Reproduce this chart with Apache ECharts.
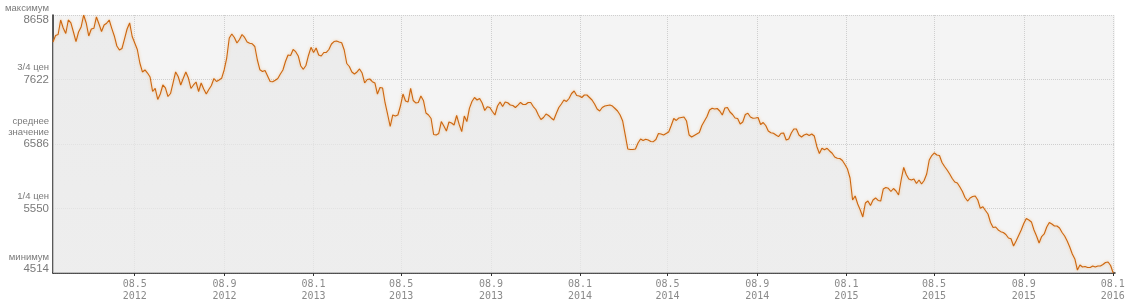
<!DOCTYPE html>
<html><head><meta charset="utf-8">
<script src="https://cdn.jsdelivr.net/npm/echarts@6/dist/echarts.min.js"></script>
<style>html,body{margin:0;padding:0;background:#fff}#c{width:1130px;height:307px}</style>
</head><body><div id="c"></div>
<script>
// ---- data ----
const firstSampleDate = '2012-01-17';   // date of the first value
const sampleStepDays = 3.5;             // values are read twice a week
const values = [
  8224,8329,8345,8578,8449,8361,8578,8530,8385,8229,
  8385,8465,8658,8530,8321,8433,8444,8626,8513,8393,
  8497,8525,8578,8444,8321,8160,8096,8120,8273,8433,
  8530,8313,8208,8104,7887,7743,7775,7726,7662,7429,
  7478,7301,7389,7534,7486,7349,7397,7566,7743,7670,
  7534,7641,7743,7646,7478,7534,7582,7429,7566,7469,
  7389,7461,7526,7638,7590,7614,7641,7775,7967,8289,
  8353,8297,8208,8264,8345,8297,8224,8203,8195,8152,
  7935,7778,7751,7767,7678,7590,7585,7609,7638,7710,
  7775,7911,8016,8008,8104,8069,8000,7839,7786,7847,
  8008,8139,8056,8128,8016,8000,8056,8056,8104,8192,
  8232,8240,8224,8213,8096,7879,7831,7743,7710,7743,
  7791,7726,7566,7622,7630,7587,7566,7389,7494,7486,
  7245,7060,6867,7052,7036,7052,7196,7389,7277,7261,
  7478,7285,7245,7253,7357,7285,7084,7052,6996,6739,
  6731,6755,6947,6875,6795,6939,6923,6891,7044,6900,
  6784,7036,6947,7159,7269,7333,7293,7317,7245,7124,
  7185,7172,7108,7052,7196,7261,7188,7261,7249,7212,
  7204,7172,7212,7253,7220,7220,7253,7253,7188,7140,
  7052,6980,7012,7068,7044,7004,6971,7076,7172,7229,
  7293,7269,7317,7397,7437,7365,7357,7333,7373,7373,
  7333,7293,7229,7148,7116,7172,7196,7204,7212,7196,
  7156,7116,7052,6955,6731,6506,6498,6498,6506,6602,
  6666,6642,6662,6650,6626,6623,6658,6755,6747,6731,
  6755,6779,6883,6996,6964,7004,7012,7020,6955,6731,
  6699,6723,6747,6771,6883,6955,7028,7132,7159,7148,
  7156,7116,7052,7164,7172,7100,7060,7004,6996,6908,
  6939,7060,7079,7020,6999,7004,7012,6900,6931,6883,
  6795,6768,6758,6731,6704,6758,6763,6650,6666,6763,
  6827,6827,6731,6699,6731,6747,6723,6747,6715,6546,
  6433,6517,6493,6517,6474,6437,6377,6356,6353,6321,
  6257,6184,6040,5687,5751,5622,5526,5414,5638,5670,
  5598,5687,5719,5679,5670,5863,5887,5874,5823,5871,
  5831,5767,6008,6209,6096,6024,6008,6024,5952,6008,
  5944,6000,6104,6329,6401,6442,6409,6401,6289,6225,
  6168,6104,6032,5976,5960,5895,5823,5727,5670,5719,
  5743,5751,5687,5553,5579,5518,5462,5325,5245,5253,
  5205,5178,5165,5133,5076,5065,4948,5028,5117,5205,
  5309,5390,5365,5334,5205,5109,4996,5100,5141,5253,
  5325,5301,5269,5269,5237,5165,5109,5028,4932,4819,
  4739,4562,4643,4610,4618,4602,4602,4626,4610,4626,
  4626,4650,4683,4691,4634,4514
];
const xMinDate = '2012-01-17';
const xMaxDate = '2016-01-11';
const xTickDates = ['2012-05-08','2012-09-08','2013-01-08','2013-05-08','2013-09-08','2014-01-08',
                    '2014-05-08','2014-09-08','2015-01-08','2015-05-08','2015-09-08','2016-01-08'];
const xTickLabels = ['08.5\n2012','08.9\n2012','08.1\n2013','08.5\n2013','08.9\n2013','08.1\n2014',
                     '08.5\n2014','08.9\n2014','08.1\n2015','08.5\n2015','08.9\n2015','08.1\n2016'];
const yTicks = [4514, 5550, 6586, 7622, 8658];
const yTickWords = ['минимум', '1/4 цен', 'среднее\nзначение', '3/4 цен', 'максимум'];

// ---- helpers: x is measured in days since xMinDate ----
const DAY = 86400000;
function ts(s){ const p = s.split('-'); return Date.UTC(+p[0], +p[1]-1, +p[2]); }
function dayNo(s){ return Math.round((ts(s) - ts(xMinDate)) / DAY); }
const d0 = dayNo(firstSampleDate);
const seriesData = values.map((v, i) => [d0 + i * sampleStepDays, v]);
const xTickDays = xTickDates.map(dayNo);
function nearest(arr, v){ let b = 0; for (let i = 1; i < arr.length; i++) if (Math.abs(arr[i]-v) < Math.abs(arr[b]-v)) b = i; return b; }

const chart = echarts.init(document.getElementById('c'), null, {renderer: 'canvas'});
chart.setOption({
  animation: false,
  backgroundColor: '#ffffff',
  grid: { left: 53, right: 15, top: 15, bottom: 34, show: true, backgroundColor: '#f4f4f4', borderWidth: 0 },
  xAxis: {
    type: 'value',
    min: 0, max: dayNo(xMaxDate),
    axisLine: { show: true, lineStyle: { color: '#222', width: 1.5 } },
    axisTick: { show: true, length: 3, customValues: xTickDays, lineStyle: { color: '#333' } },
    axisLabel: {
      customValues: xTickDays,
      formatter: v => xTickLabels[nearest(xTickDays, v)],
      fontFamily: 'DejaVu Sans Mono', fontSize: 10, color: '#8a8a8a', lineHeight: 12, margin: 5
    },
    splitLine: { show: true, lineStyle: { color: '#cfcfcf', type: 'dotted', width: 1 } }
  },
  yAxis: {
    type: 'value',
    min: yTicks[0], max: yTicks[yTicks.length - 1],
    axisLine: { show: true, lineStyle: { color: '#222', width: 1.5 } },
    axisTick: { show: false, customValues: yTicks },
    axisLabel: {
      customValues: yTicks,
      margin: 4,
      formatter: function (v) {
        const i = nearest(yTicks, v);
        const words = yTickWords[i].split('\n');
        let sp = words.length === 2 ? 's2' : 's1';
        if (i === yTicks.length - 1) sp = 'sTop';
        if (i === 0) sp = 'sBot';
        return words.map(w => '{w|' + w + '}').join('\n') + '\n{n|' + yTicks[i] + '}\n{' + sp + '| }';
      },
      rich: {
        w: { fontFamily: 'Liberation Sans', fontSize: 9.5, color: '#7a7a7a', lineHeight: 11, align: 'right' },
        n: { fontFamily: 'Liberation Sans', fontSize: 11.5, color: '#7a7a7a', lineHeight: 13, align: 'right' },
        s1: { fontSize: 1, lineHeight: 11 },
        s2: { fontSize: 1, lineHeight: 22 },
        sTop: { fontSize: 1, lineHeight: 1 },
        sBot: { fontSize: 1, lineHeight: 19 }
      }
    },
    splitLine: { show: true, lineStyle: { color: '#cfcfcf', type: 'dotted', width: 1 } }
  },
  series: [{
    type: 'line',
    data: seriesData,
    showSymbol: false,
    symbol: 'none',
    lineStyle: { color: '#cc660f', width: 1.1, shadowColor: 'rgba(245,160,70,0.6)', shadowBlur: 3 },
    areaStyle: {
      origin: 'start',
      color: new echarts.graphic.LinearGradient(0, 0, 0, 1, [
        { offset: 0, color: '#e8e8e8' }, { offset: 1, color: '#ebebeb' }
      ])
    }
  }]
});
</script>
</body></html>
